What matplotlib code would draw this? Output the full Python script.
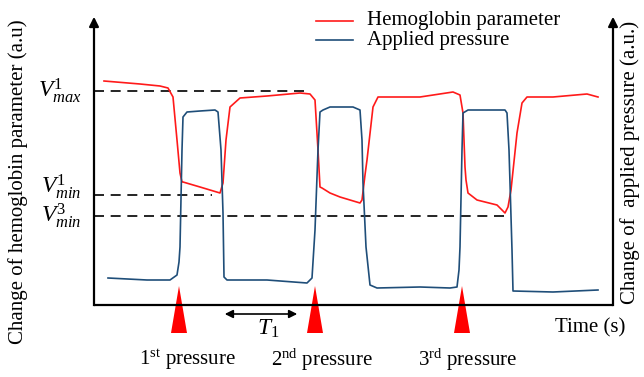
import numpy as np
import matplotlib
matplotlib.use("Agg")
import matplotlib.pyplot as plt
from matplotlib.patches import Polygon

plt.rcParams['font.family'] = ['Liberation Serif', 'DejaVu Serif']
plt.rcParams['mathtext.fontset'] = 'custom'
plt.rcParams['mathtext.rm'] = 'Liberation Serif'
plt.rcParams['mathtext.it'] = 'Liberation Serif:italic'

# schematic traces (x = time, y = level, screen units)
hb_t = [104, 140, 160, 168, 173, 177, 180, 182, 183, 200, 220, 223, 226, 230, 240, 267, 300, 310, 315,
        318, 320, 322, 330, 340, 360, 362, 365, 367, 373, 378, 420, 453, 460, 463, 465, 466, 468, 477,
        497, 505, 508, 511, 517, 522, 527, 553, 587, 598]
hb_v = [81, 84, 86, 88, 97, 140, 173, 182, 182, 187, 193, 183, 140, 107, 98, 96, 93, 94, 100,
        150, 187, 188, 193, 197, 203, 200, 175, 160, 107, 97, 97, 92, 95, 113, 167, 180, 193, 200,
        205, 213, 207, 190, 133, 103, 97, 97, 94, 97]

pr_t = [108, 147, 170, 177, 179, 180, 182, 183, 187, 200, 215, 218, 221, 223, 224, 227, 267, 307, 312,
        315, 318, 320, 323, 330, 353, 360, 362, 363, 366, 370, 377, 420, 450, 457, 459, 460, 462, 463,
        468, 505, 507, 509, 510, 512, 513, 553, 598]
pr_v = [278, 280, 280, 275, 262, 247, 150, 117, 112, 111, 110, 112, 150, 213, 277, 280, 280, 283, 278,
        230, 150, 112, 110, 107, 107, 110, 140, 183, 247, 285, 288, 287, 288, 287, 270, 247, 150, 113,
        110, 110, 113, 150, 183, 250, 291, 292, 290]

# reference levels: label, level, end of dashed line, label position
level_labels = [r'$V_{max}^{1}$', r'$V_{min}^{1}$', r'$V_{min}^{3}$']
level_values = [91, 195, 216]
level_ends = [306, 212, 507]
level_label_y = [91, 187, 216]

# pressure onsets and labels
onsets = [179, 315, 462]
onset_labels = [r'1$^{\mathrm{st}}$ pressure', r'2$^{\mathrm{nd}}$ pressure', r'3$^{\mathrm{rd}}$ pressure']
label_x = [187, 322, 468]

red = '#ff1a1a'
blue = '#1f4e79'

fig = plt.figure(figsize=(6.44, 3.77), dpi=100)
ax = fig.add_axes([0, 0, 1, 1])
ax.set_xlim(0, 644)
ax.set_ylim(377, 0)
ax.axis('off')

# frame
x0, x1, yb, yt = 94, 613, 305, 14
ax.plot([x0, x1], [yb, yb], color='black', lw=1.6, solid_capstyle='butt')
for xa in (x0, x1):
    ax.plot([xa, xa], [yb, yt + 8], color='black', lw=1.6)
    ax.annotate('', xy=(xa, yt), xytext=(xa, yt + 12),
                arrowprops=dict(arrowstyle='-|>', color='black', lw=1.6, mutation_scale=14))

# dashed levels
for lab, lv, xe, ly in zip(level_labels, level_values, level_ends, level_label_y):
    ax.plot([x0, xe], [lv, lv], color='black', lw=1.2, dashes=(6, 4))
    ax.text(82, ly, lab, fontsize=17, ha='right', va='center')

# traces
ax.plot(hb_t, hb_v, color=red, lw=1.2)
ax.plot(pr_t, pr_v, color=blue, lw=1.2)

# legend
ax.plot([316, 353], [21, 21], color=red, lw=1.2)
ax.plot([316, 353], [40, 40], color=blue, lw=1.2)
ax.text(367, 21, 'Hemoglobin parameter', fontsize=15, va='center')
ax.text(367, 41, 'Applied pressure', fontsize=15, va='center')

# pressure triangles and labels
for xo, lab, xl in zip(onsets, onset_labels, label_x):
    ax.add_patch(Polygon([[xo - 8, 333], [xo + 8, 333], [xo, 286]], closed=True,
                         facecolor='#ff0000', edgecolor='none'))
    ax.text(xl, 360, lab, fontsize=15, ha='center', va='center')

# period arrow
ax.annotate('', xy=(222, 314), xytext=(300, 314),
            arrowprops=dict(arrowstyle='<|-|>', color='black', lw=1.2, mutation_scale=12))
ax.text(268, 329, r'$T_1$', fontsize=17, ha='center', va='center')

ax.text(590, 328, 'Time (s)', fontsize=15, ha='center', va='center')
ax.text(18, 182, 'Change of hemoglobin parameter (a.u)', fontsize=15, rotation=90,
        ha='center', va='center')
ax.text(630, 162, 'Change of  applied pressure (a.u.)', fontsize=15, rotation=90,
        ha='center', va='center')

fig.savefig('out.png', dpi=100)
